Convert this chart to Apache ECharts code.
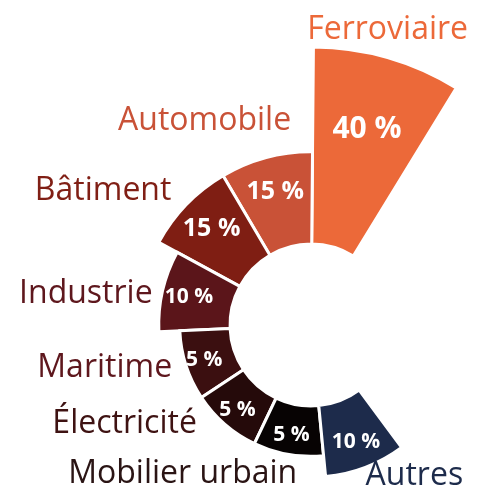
<!DOCTYPE html>
<html>
<head>
<meta charset="utf-8">
<title>Répartition par secteur</title>
<script src="https://cdn.jsdelivr.net/npm/echarts@6/dist/echarts.min.js"></script>
<style>
  html, body { margin: 0; padding: 0; background: #fff; }
  #chart { width: 481px; height: 490px; }
</style>
</head>
<body>
<div id="chart"></div>
<script>
// secteurs, sens anti-horaire depuis le haut à droite
const sectors = ['Ferroviaire', 'Automobile', 'Bâtiment', 'Industrie', 'Maritime', 'Électricité', 'Mobilier urbain', 'Autres'];
const shares = [40, 15, 15, 10, 5, 5, 5, 10];

const sliceColors = ['#EC6939', '#C95237', '#7F1E13', '#5B151A', '#3B0F10', '#250A0A', '#070303', '#1D2B4B'];
const textColors = ['#EC6939', '#C95237', '#801F15', '#5E171D', '#5E171D', '#3E1212', '#2A1414', '#1D2B4B'];

// placement des noms de secteur, relatif au bord extérieur du secteur
const labelPlacement = [
  { align: 'center', dx: 0, dy: -28 },
  { align: 'right', dx: 25, dy: -37 },
  { align: 'right', dx: -15, dy: -14 },
  { align: 'right', dx: -10, dy: 3 },
  { align: 'right', dx: -14, dy: 2 },
  { align: 'right', dx: -28, dy: 0 },
  { align: 'right', dx: 9, dy: 20 },
  { align: 'left', dx: 0, dy: 9 }
];

const chart = echarts.init(document.getElementById('chart'));

const pctFontSize = (v) => (v >= 40 ? 30 : v >= 15 ? 25 : 21);

const renderSlice = (params, api) => {
  const cs = params.coordSys;
  const i = params.dataIndex;
  const value = api.value(0);
  const p = api.coord([value, i]);
  const r = p[2];
  const ang = p[3];
  const half = api.size([0, 1])[1] / 2;

  // étiquette du pourcentage, dans le secteur
  const rl = cs.r0 + 0.62 * (r - cs.r0);
  const lx = cs.cx + rl * Math.cos(ang);
  const ly = cs.cy - rl * Math.sin(ang);

  // nom du secteur, à l'extérieur
  const place = labelPlacement[i];
  const ox = cs.cx + r * Math.cos(ang) + place.dx;
  const oy = cs.cy - r * Math.sin(ang) + place.dy;

  return {
    type: 'group',
    children: [
      {
        type: 'sector',
        shape: {
          cx: cs.cx,
          cy: cs.cy,
          r0: cs.r0,
          r: r,
          startAngle: -ang - half,
          endAngle: -ang + half,
          clockwise: true
        },
        style: { fill: sliceColors[i], stroke: '#fff', lineWidth: 3 }
      },
      {
        type: 'text',
        x: lx,
        y: ly,
        style: {
          text: value + ' %',
          fill: '#fff',
          fontFamily: 'Open Sans',
          fontWeight: 'bold',
          fontSize: pctFontSize(value),
          align: 'center',
          verticalAlign: 'middle'
        }
      },
      {
        type: 'text',
        x: ox,
        y: oy,
        style: {
          text: sectors[i],
          fill: textColors[i],
          fontFamily: 'Open Sans',
          fontSize: 32,
          align: place.align,
          verticalAlign: 'middle'
        }
      }
    ]
  };
};

const option = {
  animation: false,
  polar: {
    center: [311, 325],
    radius: [81, 278]
  },
  angleAxis: {
    type: 'category',
    data: sectors,
    startAngle: 58.5,
    endAngle: 306.5,
    clockwise: false,
    show: false
  },
  radiusAxis: {
    type: 'value',
    min: -7,
    max: 40,
    show: false
  },
  series: [
    {
      type: 'custom',
      coordinateSystem: 'polar',
      renderItem: renderSlice,
      data: sectors.map((name, i) => [shares[i], name])
    }
  ]
};

chart.setOption(option);
</script>
</body>
</html>
